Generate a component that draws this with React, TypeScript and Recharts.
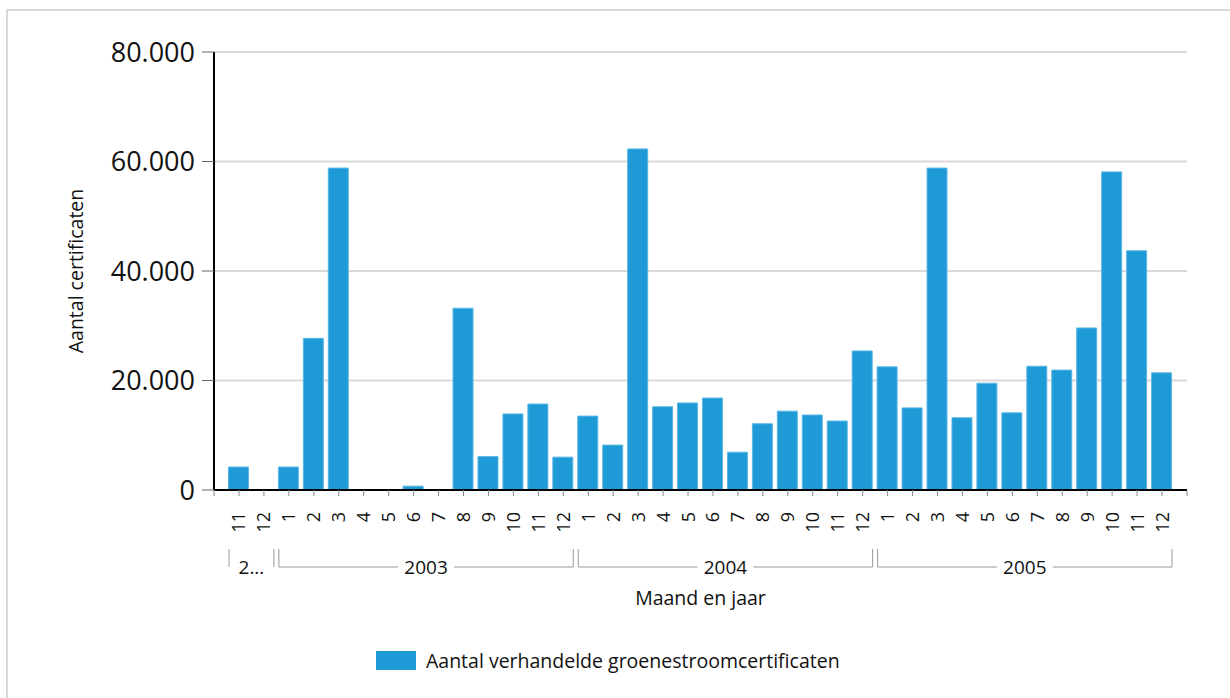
import React from "react";
import { BarChart, Bar, XAxis, YAxis, CartesianGrid } from "recharts";

// months along the x axis, with the year each one belongs to
const monthLabels = [
  "11", "12",
  "1", "2", "3", "4", "5", "6", "7", "8", "9", "10", "11", "12",
  "1", "2", "3", "4", "5", "6", "7", "8", "9", "10", "11", "12",
  "1", "2", "3", "4", "5", "6", "7", "8", "9", "10", "11", "12",
];
const yearLabels = [
  "2002", "2002",
  "2003", "2003", "2003", "2003", "2003", "2003", "2003", "2003", "2003", "2003", "2003", "2003",
  "2004", "2004", "2004", "2004", "2004", "2004", "2004", "2004", "2004", "2004", "2004", "2004",
  "2005", "2005", "2005", "2005", "2005", "2005", "2005", "2005", "2005", "2005", "2005", "2005",
];
// traded green power certificates per month
const certificates = [
  4200, 0,
  4200, 27700, 58800, 0, 0, 700, 0, 33200, 6100, 13900, 15700, 6000,
  13500, 8200, 62300, 15200, 15900, 16800, 6900, 12100, 14400, 13700, 12600, 25400,
  22500, 15000, 58800, 13200, 19500, 14100, 22600, 21900, 29600, 58100, 43700, 21400,
];
const yTicks = [0, 20000, 40000, 60000, 80000];

const seriesName = "Aantal verhandelde groenestroomcertificaten";
const FONT = "'Open Sans', 'Noto Sans', sans-serif";
const BAR_COLOR = "#1E9AD6";

const W = 1230;
const H = 698;
const PLOT_LEFT = 214;
const PLOT_RIGHT = 1187;
const PAD = 12.5;
const STEP = (PLOT_RIGHT - PLOT_LEFT - 2 * PAD) / certificates.length;

const data = certificates.map((v, i) => ({
  month: `${yearLabels[i]}-${monthLabels[i]}`,
  label: monthLabels[i],
  year: yearLabels[i],
  value: v,
}));

const fmt = (v: number) => String(v).replace(/\B(?=(\d{3})+(?!\d))/g, ".");

function MonthTick(props: any) {
  const { x, y, payload } = props;
  const i: number = payload.index;
  const d = data[i];
  const axisY = y - 22;
  const parts: React.ReactNode[] = [];

  // extra tick marks at both ends of the axis
  if (i === 0) {
    parts.push(<line key="t0" x1={x - STEP / 2 - PAD} x2={x - STEP / 2 - PAD} y1={axisY} y2={axisY + 6} stroke="#888" />);
  }
  if (i === data.length - 1) {
    parts.push(<line key="t1" x1={x + STEP / 2 + PAD} x2={x + STEP / 2 + PAD} y1={axisY} y2={axisY + 6} stroke="#888" />);
  }

  // year bracket, drawn once at the first month of each year
  if (i === 0 || data[i - 1].year !== d.year) {
    const n = data.filter((e) => e.year === d.year).length;
    const left = x - STEP / 2 + 2.5;
    const right = x - STEP / 2 + n * STEP - 2.5;
    const mid = (left + right) / 2;
    const by = y + 55;
    const short = right - left < 60;
    const text = short ? d.year.slice(0, 1) + "..." : d.year;
    const half = short ? 0 : 28;
    parts.push(
      <g key="br">
        <line x1={left} x2={left} y1={y + 37} y2={by} stroke="#9a9a9a" />
        <line x1={right} x2={right} y1={y + 37} y2={by} stroke="#9a9a9a" />
        {!short && (
          <>
            <line x1={left} x2={mid - half} y1={by} y2={by} stroke="#9a9a9a" />
            <line x1={mid + half} x2={right} y1={by} y2={by} stroke="#9a9a9a" />
          </>
        )}
        <text x={mid} y={by} dy="0.36em" textAnchor="middle" fontSize={19} fontFamily={FONT} fill="#111">
          {text}
        </text>
      </g>
    );
  }

  return (
    <g>
      <text
        transform={`translate(${x},${y}) rotate(-90)`}
        textAnchor="end"
        dy="0.36em"
        fontSize={18}
        fontFamily={FONT}
        fill="#111"
      >
        {d.label}
      </text>
      {parts}
    </g>
  );
}

export default function App() {
  return (
    <div
      style={{
        position: "fixed",
        left: 0,
        top: 0,
        width: W,
        height: H,
        overflow: "hidden",
        background: "#fff",
        fontFamily: FONT,
      }}
    >
      <div
        style={{
          position: "absolute",
          left: 6,
          top: 9,
          width: W + 100,
          height: H + 100,
          border: "2px solid #d9d9d9",
        }}
      />
      <div style={{ position: "absolute", left: 0, top: 0 }}>
        <BarChart
          width={W}
          height={H}
          data={data}
          margin={{ top: 52, right: W - PLOT_RIGHT, left: 74, bottom: 148 }}
          barSize={20}
        >
          <CartesianGrid horizontal vertical={false} stroke="#dadada" strokeWidth={2} />
          <XAxis
            dataKey="month"
            interval={0}
            height={60}
            padding={{ left: PAD, right: PAD }}
            axisLine={{ stroke: "#000", strokeWidth: 2 }}
            tickLine={{ stroke: "#888" }}
            tickSize={6}
            tickMargin={16}
            tick={<MonthTick />}
            label={({ viewBox }: any) => (
              <text
                x={viewBox.x + viewBox.width / 2}
                y={viewBox.y + 108}
                dy="0.36em"
                textAnchor="middle"
                fontSize={19.5}
                fontFamily={FONT}
                fill="#111"
              >
                Maand en jaar
              </text>
            )}
          />
          <YAxis
            width={140}
            domain={[0, 80000]}
            ticks={yTicks}
            interval={0}
            tickFormatter={fmt}
            axisLine={{ stroke: "#000", strokeWidth: 2 }}
            tickLine={{ stroke: "#666" }}
            tickSize={12}
            tickMargin={7}
            tick={{ fontSize: 27, fontFamily: FONT, fill: "#111" }}
            label={({ viewBox }: any) => (
              <text
                transform={`translate(${viewBox.x + 2},${viewBox.y + viewBox.height / 2}) rotate(-90)`}
                dy="0.36em"
                textAnchor="middle"
                fontSize={19.5}
                fontFamily={FONT}
                fill="#111"
              >
                Aantal certificaten
              </text>
            )}
          />
          <Bar
            dataKey="value"
            name={seriesName}
            fill={BAR_COLOR}
            stroke="#5DB7E4"
            strokeWidth={1}
            isAnimationActive={false}
          />
        </BarChart>
      </div>
      <div
        style={{
          position: "absolute",
          left: 376,
          top: 651,
          display: "flex",
          alignItems: "center",
          fontSize: 19.5,
          color: "#111",
        }}
      >
        <span style={{ display: "inline-block", width: 40, height: 19, background: BAR_COLOR, marginRight: 10 }} />
        <span style={{ lineHeight: "19px" }}>{seriesName}</span>
      </div>
    </div>
  );
}
